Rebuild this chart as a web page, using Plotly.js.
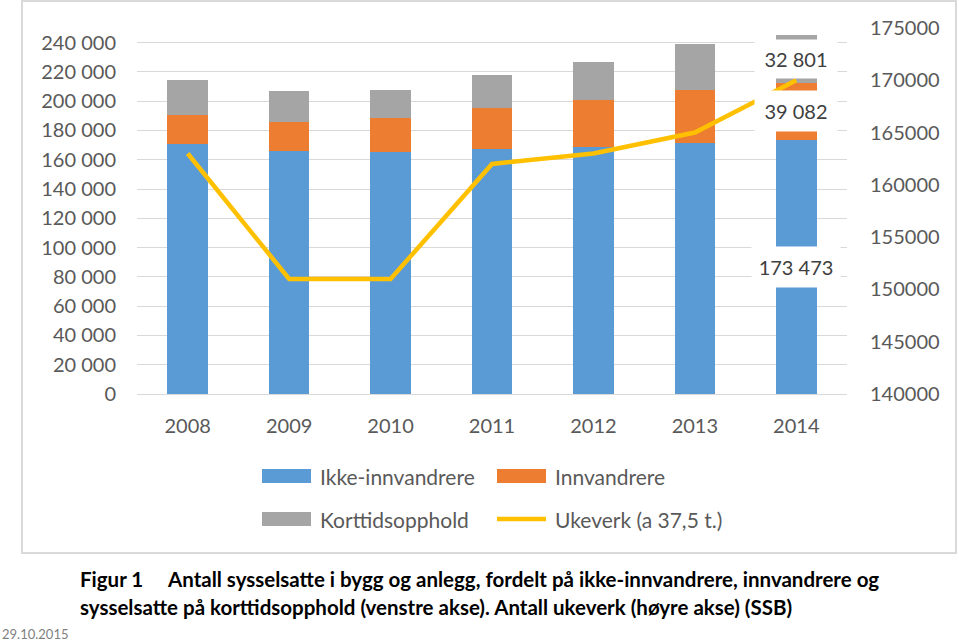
<!DOCTYPE html>
<html>
<head>
<meta charset="utf-8">
<script src="https://cdn.plot.ly/plotly-3.0.1.min.js"></script>
<style>
  html, body { margin: 0; padding: 0; background: #ffffff; }
  #chart { width: 959px; height: 642px; }
</style>
</head>
<body>
<div id="chart"></div>
<script>
// ---- Data ----
const years = ["2008", "2009", "2010", "2011", "2012", "2013", "2014"];
const ikkeInnvandrere = [171000, 166000, 165300, 167500, 168700, 171200, 173473];
const innvandrere = [19800, 19500, 23000, 28200, 32300, 36500, 39082];
const korttidsopphold = [23400, 21200, 19400, 22200, 26000, 31200, 32801];
const ukeverk = [163000, 151000, 151000, 162000, 163000, 165000, 170000];

const seriesNames = ["Ikke-innvandrere", "Innvandrere", "Korttidsopphold", "Ukeverk (a 37,5 t.)"];
const leftTicks = [0, 20000, 40000, 60000, 80000, 100000, 120000, 140000, 160000, 180000, 200000, 220000, 240000];
const rightTicks = [140000, 145000, 150000, 155000, 160000, 165000, 170000, 175000];

const captionFig = "Figur 1";
const captionLine1 = "Antall sysselsatte i bygg og anlegg, fordelt på ikke-innvandrere, innvandrere og";
const captionLine2 = "sysselsatte på korttidsopphold (venstre akse). Antall ukeverk (høyre akse) (SSB)";
const dateText = "29.10.2015";

// ---- Styling ----
const C_BLUE = "#5B9BD5", C_ORANGE = "#ED7D31", C_GRAY = "#A5A5A5", C_YELLOW = "#FFC000";
const TXT = "#595959";
const FONT = "Lato, 'Open Sans', sans-serif";

const W = 959, H = 642;
const PL = 137, PR = 847, PT = 28, PB = 394;
const px2x = p => (p - PL) / (PR - PL);
const py2y = p => (PB - p) / (PB - PT);

const traces = [
  { type: "bar", name: seriesNames[0], x: years, y: ikkeInnvandrere, marker: { color: C_BLUE }, hoverinfo: "x+y+name" },
  { type: "bar", name: seriesNames[1], x: years, y: innvandrere, marker: { color: C_ORANGE }, hoverinfo: "x+y+name" },
  { type: "bar", name: seriesNames[2], x: years, y: korttidsopphold, marker: { color: C_GRAY }, hoverinfo: "x+y+name" },
  { type: "scatter", mode: "lines", name: seriesNames[3], x: years, y: ukeverk, yaxis: "y2",
    line: { color: C_YELLOW, width: 4.5 }, hoverinfo: "x+y+name" }
];

// Data labels for the last year (centered in each segment, white box)
const last = years.length - 1;
const b0 = ikkeInnvandrere[last], b1 = innvandrere[last], b2 = korttidsopphold[last];
const fmt = v => String(v).replace(/\B(?=(\d{3})+(?!\d))/g, " ");
const lblFont = { family: FONT, size: 20, color: "#404040" };
const annotations = [
  { x: last, y: b0 / 2, xref: "x", yref: "y", text: fmt(b0), showarrow: false,
    bgcolor: "#ffffff", width: 86, height: 38, font: lblFont },
  { x: last, y: b0 + b1 / 2, xref: "x", yref: "y", text: fmt(b1), showarrow: false,
    bgcolor: "#ffffff", width: 80, height: 38, font: lblFont },
  { x: last, y: b0 + b1 + b2 / 2, xref: "x", yref: "y", text: fmt(b2), showarrow: false,
    bgcolor: "#ffffff", width: 80, height: 36, font: lblFont }
];

// Manual legend (two rows)
const legendItems = [
  { name: seriesNames[0], color: C_BLUE, kind: "box", sx: 262, ty: 476 },
  { name: seriesNames[1], color: C_ORANGE, kind: "box", sx: 497, ty: 476 },
  { name: seriesNames[2], color: C_GRAY, kind: "box", sx: 262, ty: 519 },
  { name: seriesNames[3], color: C_YELLOW, kind: "line", sx: 497, ty: 519 }
];
const shapes = [
  { type: "rect", xref: "paper", yref: "paper", x0: px2x(22), x1: px2x(956), y0: py2y(553), y1: py2y(1),
    line: { color: "#D9D9D9", width: 2 }, fillcolor: "rgba(0,0,0,0)", layer: "below" }
];
legendItems.forEach(it => {
  if (it.kind === "box") {
    shapes.push({ type: "rect", xref: "paper", yref: "paper", x0: px2x(it.sx), x1: px2x(it.sx + 49),
      y0: py2y(it.ty + 7), y1: py2y(it.ty - 7), line: { width: 0 }, fillcolor: it.color });
  } else {
    shapes.push({ type: "line", xref: "paper", yref: "paper", x0: px2x(it.sx), x1: px2x(it.sx + 49),
      y0: py2y(it.ty), y1: py2y(it.ty), line: { width: 4.5, color: it.color } });
  }
  annotations.push({ xref: "paper", yref: "paper", x: px2x(it.sx + 56), y: py2y(it.ty), xanchor: "left", yanchor: "middle",
    text: it.name, showarrow: false, font: { family: FONT, size: 21, color: TXT } });
});

// Caption
const capFont = { family: FONT, size: 20.5, color: "#000000" };
annotations.push(
  { xref: "paper", yref: "paper", x: px2x(78), y: py2y(579), xanchor: "left", yanchor: "middle", showarrow: false,
    text: "<b>" + captionFig + "</b>", font: capFont },
  { xref: "paper", yref: "paper", x: px2x(165), y: py2y(579), xanchor: "left", yanchor: "middle", showarrow: false,
    text: "<b>" + captionLine1 + "</b>", font: capFont },
  { xref: "paper", yref: "paper", x: px2x(78), y: py2y(607), xanchor: "left", yanchor: "middle", showarrow: false,
    text: "<b>" + captionLine2 + "</b>", font: capFont },
  { xref: "paper", yref: "paper", x: px2x(0), y: py2y(634), xanchor: "left", yanchor: "middle", showarrow: false,
    text: dateText, font: { family: FONT, size: 13, color: "#7F7F7F" } }
);

const layout = {
  width: W, height: H,
  margin: { l: PL, r: W - PR, t: PT, b: H - PB, pad: 0 },
  paper_bgcolor: "#ffffff", plot_bgcolor: "#ffffff",
  separators: ", ",
  barmode: "stack",
  bargap: 0.6,
  showlegend: false,
  font: { family: FONT, size: 20, color: TXT },
  xaxis: {
    type: "category", range: [-0.5, years.length - 0.5], autorange: false,
    showgrid: false, showline: true, linecolor: "#D9D9D9", linewidth: 1,
    ticks: "", ticklabelstandoff: 14, tickfont: { family: FONT, size: 20, color: TXT }, fixedrange: true
  },
  yaxis: {
    range: [0, 250000], autorange: false, tickmode: "array", tickvals: leftTicks, tickformat: ",d",
    showgrid: true, gridcolor: "#D9D9D9", gridwidth: 1, zeroline: false, showline: false,
    ticks: "", ticklabelstandoff: 20, tickfont: { family: FONT, size: 20, color: TXT }, fixedrange: true
  },
  yaxis2: {
    overlaying: "y", side: "right", range: [140000, 175000], autorange: false, tickmode: "array", tickvals: rightTicks, tickformat: "d",
    showgrid: false, zeroline: false, showline: false,
    ticks: "", ticklabelstandoff: 22, tickfont: { family: FONT, size: 20, color: TXT }, fixedrange: true
  },
  annotations: annotations,
  shapes: shapes
};

Plotly.newPlot("chart", traces, layout, { displayModeBar: false, staticPlot: true });
</script>
</body>
</html>
